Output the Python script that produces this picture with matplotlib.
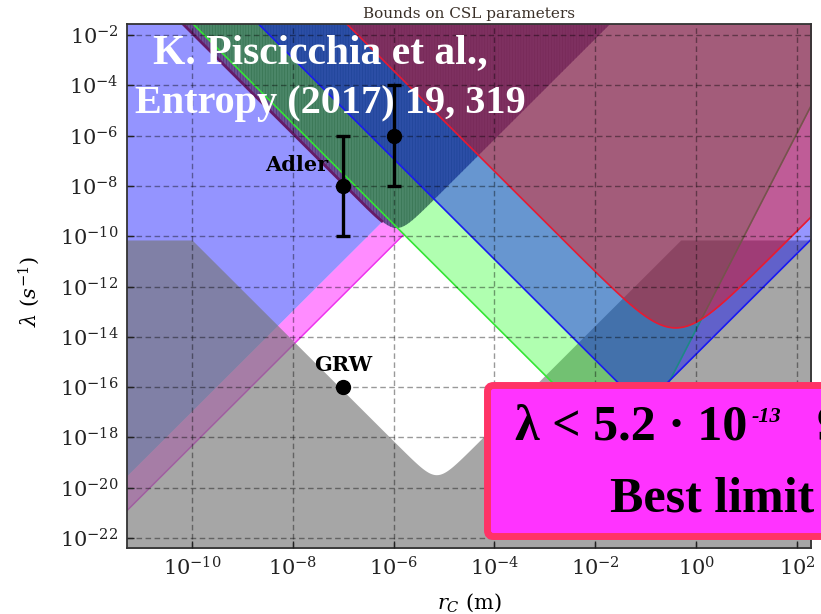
import numpy as np
import matplotlib
matplotlib.use("Agg")
import matplotlib.pyplot as plt
from matplotlib.patches import FancyBboxPatch
from matplotlib.ticker import FixedLocator, LogFormatterSciNotation, NullLocator

# ---------------- data ----------------
# plotted window, log10 of r_C (m) and of lambda (1/s)
log_r_lim = (-11.29, 2.28)
log_lam_lim = (-22.40, -1.56)
x_tick_exp = [-10, -8, -6, -4, -2, 0, 2]
y_tick_exp = [-2, -4, -6, -8, -10, -12, -14, -16, -18, -20, -22]

# straight bounds: log10(lambda) = slope * log10(r_C) + offset
pink_upper = (2.0, 3.06)
pink_lower = (2.0, 1.67)
hatch_left = (-2.0, -21.92)
hatch_right = (2.0, 1.85)
green_left = (-2.0, -21.52)
green_right = (3.9, -13.71)
blue_left = (-2.0, -18.92)
blue_right = (2.0, -14.69)
red_left = (-2.0, -15.42)
red_right = (2.0, -13.80)
grey_left = (-2.0, -30.15)
grey_right = (2.0, -9.54)
grey_plateau = -10.15
# rounding of the minimum of the V-shaped bounds (decades)
hatch_soft = 1.2
red_soft = 3.2
grey_soft = 1.2

# proposed parameter values
adler_r = [1e-7, 1e-6]
adler_lam = [1e-8, 1e-6]
adler_lo = [1e-10, 1e-8]
adler_hi = [1e-6, 1e-4]
grw_r = [1e-7]
grw_lam = [1e-16]

# ---------------- helpers ----------------
LN10 = np.log(10.0)
TOP, BOTTOM = 0.0, -24.0
lr = np.linspace(-11.6, 2.6, 4000)
r = 10.0 ** lr


def line(b):
    return b[0] * lr + b[1]


def vee(a, b, soft=0.0):
    la, lb = line(a), line(b)
    if soft <= 0:
        return np.maximum(la, lb)
    return soft * np.logaddexp(la * LN10 / soft, lb * LN10 / soft) / LN10


def pw(y):
    return 10.0 ** np.clip(y, BOTTOM, TOP)


p_up = line(pink_upper)
p_lo = line(pink_lower)
h_b = vee(hatch_left, hatch_right, hatch_soft)
g_b = vee(green_left, green_right)
g_left = line(green_left)
b_b = vee(blue_left, blue_right)
r_b = vee(red_left, red_right, red_soft)
grey_b = np.minimum(grey_plateau, vee(grey_left, grey_right, grey_soft))

# ---------------- figure ----------------
plt.rcParams["font.family"] = "DejaVu Serif"
plt.rcParams["mathtext.fontset"] = "dejavuserif"
plt.rcParams["hatch.linewidth"] = 0.45
plt.rcParams["hatch.color"] = (0.30, 0.20, 0.45)

fig = plt.figure(figsize=(8.21, 6.14), dpi=100)
ax = fig.add_axes([127 / 821, 66 / 614, 684 / 821, 524 / 614])
ax.set_xscale("log")
ax.set_yscale("log")

# region above the pink band (left side)
a_top = np.minimum(h_b, TOP)
ax.fill_between(r, pw(p_up), pw(a_top), where=a_top > p_up, interpolate=True,
                color=(0, 0, 1), alpha=0.42, lw=0, zorder=1)
# pink band, ending at the green bound
pk_top = np.minimum(p_up, g_left)
ax.fill_between(r, pw(p_lo), pw(pk_top), where=pk_top > p_lo, interpolate=True,
                color=(1, 0, 1), alpha=0.45, lw=0, zorder=1.2)
m = p_lo < g_left
ax.plot(r[m], pw(p_lo[m]), color=(0.93, 0.2, 0.93), lw=1.0, zorder=1.3)

# theoretically excluded (grey)
ax.fill_between(r, pw(np.full_like(lr, BOTTOM)), pw(grey_b),
                color=(117 / 255,) * 3, alpha=0.645, lw=0, zorder=2)

# hatched region
ax.fill_between(r, pw(h_b), pw(np.full_like(lr, TOP)), where=h_b < TOP,
                interpolate=True, facecolor=(109 / 255, 81 / 255, 152 / 255),
                edgecolor=(0.30, 0.20, 0.45), hatch="||||||", lw=0, zorder=3)
m = h_b > p_up
ax.plot(r[m], pw(h_b[m]), color=(0.40, 0.10, 0.40), lw=2.0, zorder=3.2)

# green region
ax.fill_between(r, pw(g_b), pw(np.full_like(lr, TOP)), color=(0, 1, 0),
                alpha=0.31, lw=0, zorder=4)
ax.plot(r, pw(g_b), color=(0.2, 0.9, 0.2), lw=1.2, zorder=4.2)

# blue band
ax.fill_between(r, pw(b_b), pw(r_b), where=r_b > b_b, interpolate=True,
                color=(0, 0, 1), alpha=0.41, lw=0, zorder=5)
ax.plot(r, pw(b_b), color=(0.1, 0.1, 0.95), lw=1.2, zorder=5.2)

# maroon region
ax.fill_between(r, pw(r_b), pw(np.full_like(lr, TOP)),
                color=(156 / 255, 0, 92 / 255), alpha=0.64, lw=0, zorder=6)
ax.plot(r, pw(r_b), color=(0.9, 0.1, 0.2), lw=1.2, zorder=6.2)

# dashed grid on top of the regions
for e in x_tick_exp:
    ax.axvline(10.0 ** e, color="k", alpha=0.4, lw=1.0, ls=(0, (4, 2.5)), zorder=7)
for e in y_tick_exp:
    ax.axhline(10.0 ** e, color="k", alpha=0.4, lw=1.0, ls=(0, (4, 2.5)), zorder=7)

# Adler and GRW values
lam = np.array(adler_lam)
yerr = [lam - np.array(adler_lo), np.array(adler_hi) - lam]
ax.errorbar(adler_r, adler_lam, yerr=yerr, fmt="o", color="k", ms=10,
            elinewidth=2.4, capsize=5, capthick=2.4, zorder=8)
ax.plot(grw_r, grw_lam, "o", color="k", ms=10, zorder=8)
ax.annotate("Adler", xy=(adler_r[0], adler_lam[0]), xytext=(-11, 15),
            textcoords="offset points", ha="right", va="center",
            fontsize=15, fontweight="bold", zorder=9)
ax.annotate("GRW", xy=(grw_r[0], grw_lam[0]), xytext=(0, 16),
            textcoords="offset points", ha="center", va="center",
            fontsize=15, fontweight="bold", zorder=9)

# axes
ax.set_xlim(10.0 ** log_r_lim[0], 10.0 ** log_r_lim[1])
ax.set_ylim(10.0 ** log_lam_lim[0], 10.0 ** log_lam_lim[1])
ax.xaxis.set_major_locator(FixedLocator(10.0 ** np.array(x_tick_exp, float)))
ax.yaxis.set_major_locator(FixedLocator(10.0 ** np.array(y_tick_exp, float)))
ax.xaxis.set_major_formatter(LogFormatterSciNotation())
ax.yaxis.set_major_formatter(LogFormatterSciNotation())
ax.xaxis.set_minor_locator(NullLocator())
ax.yaxis.set_minor_locator(NullLocator())
ax.tick_params(direction="in", length=5, width=1, labelsize=15, pad=6,
               colors="#222222", top=False, right=False)
ax.xaxis.set_zorder(10)
ax.yaxis.set_zorder(10)
for s in ax.spines.values():
    s.set_linewidth(1.3)
    s.set_color("#333333")
    s.set_zorder(10)

ax.set_title("Bounds on CSL parameters", fontsize=11, pad=4, color="#3a3028")
ax.set_xlabel(r"$r_C\ (\mathrm{m})$", fontsize=15)
ax.set_ylabel(r"$\lambda\ (s^{-1})$", fontsize=15)
ax.xaxis.set_label_coords(0.5, -0.082)
ax.yaxis.set_label_coords(-0.125, 0.49)

# citation overlay
fig.text(153 / 821, 1 - 63 / 614, "K. Piscicchia et al.,", color="white",
         family="Liberation Serif", fontweight="bold", fontsize=30,
         va="baseline", ha="left", zorder=20)
fig.text(135 / 821, 1 - 113 / 614, "Entropy (2017) 19, 319", color="white",
         family="Liberation Serif", fontweight="bold", fontsize=29,
         va="baseline", ha="left", zorder=20)

# result box
box = FancyBboxPatch((4.875, 0.775), 4.0, 1.51,
                     boxstyle="round,pad=0,rounding_size=0.06",
                     transform=fig.dpi_scale_trans, facecolor="#ff33ff",
                     edgecolor="#ff3366", lw=5.0, zorder=30)
fig.add_artist(box)

base1 = 614 - 440
t1 = fig.text(515 / 821, base1 / 614, "λ < 5.2 · 10", family="Liberation Serif",
              fontweight="bold", fontsize=36, va="baseline", ha="left",
              color="black", zorder=31)
fig.canvas.draw()
renderer = fig.canvas.get_renderer()
bb = t1.get_window_extent(renderer)
t2 = fig.text((bb.x1 + 4) / 821, (base1 + 18) / 614, "-13",
              family="Liberation Serif", fontweight="bold", style="italic",
              fontsize=16, va="baseline", ha="left", color="black", zorder=31)
bb2 = t2.get_window_extent(renderer)
fig.text((bb2.x1 + 36) / 821, base1 / 614, "95% C.L.", family="Liberation Serif",
         fontweight="bold", fontsize=36, va="baseline", ha="left",
         color="black", zorder=31)
fig.text(610 / 821, (614 - 512) / 614, "Best limit", family="Liberation Serif",
         fontweight="bold", fontsize=36, va="baseline", ha="left",
         color="black", zorder=31)

fig.savefig("out.png", dpi=100)
